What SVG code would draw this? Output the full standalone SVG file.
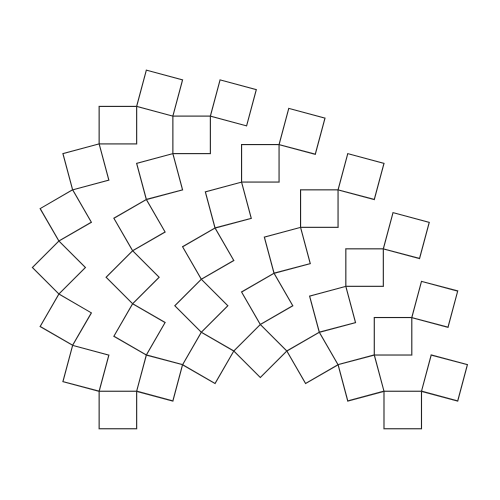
<svg xmlns="http://www.w3.org/2000/svg" xmlns:xlink="http://www.w3.org/1999/xlink" width="500" height="500" viewBox="0 0 500 500">
<style>
.sq{fill:none;stroke:#222;stroke-width:1.1}
</style>
<defs>
<rect id="sq" class="sq" x="-18.75" y="-18.75" width="37.5" height="37.5"/>
</defs>
<rect width="500" height="500" fill="#fff"/>
<g id="chain1">
<use id="L1s0" href="#sq" transform="translate(159.61,93.15) rotate(15)"/>
<use id="L1s1" href="#sq" transform="translate(117.90,125.16) rotate(0)"/>
<use id="L1s2" href="#sq" transform="translate(85.89,166.87) rotate(-15)"/>
<use id="L1s3" href="#sq" transform="translate(65.77,215.45) rotate(-30)"/>
<use id="L1s4" href="#sq" transform="translate(58.91,267.58) rotate(-45)"/>
<use id="L1s5" href="#sq" transform="translate(65.77,319.71) rotate(-60)"/>
<use id="L1s6" href="#sq" transform="translate(85.89,368.29) rotate(-75)"/>
<use id="L1s7" href="#sq" transform="translate(117.90,410.00) rotate(-90)"/>
</g>
<g id="chain2">
<use id="L2s0" href="#sq" transform="translate(233.34,102.86) rotate(15)"/>
<use id="L2s1" href="#sq" transform="translate(191.62,134.86) rotate(0)"/>
<use id="L2s2" href="#sq" transform="translate(159.61,176.58) rotate(-15)"/>
<use id="L2s3" href="#sq" transform="translate(139.49,225.16) rotate(-30)"/>
<use id="L2s4" href="#sq" transform="translate(132.63,277.29) rotate(-45)"/>
<use id="L2s5" href="#sq" transform="translate(139.49,329.42) rotate(-60)"/>
<use id="L2s6" href="#sq" transform="translate(159.61,377.99) rotate(-75)"/>
</g>
<g id="chain3">
<use id="L3s0" href="#sq" transform="translate(302.03,131.31) rotate(15)"/>
<use id="L3s1" href="#sq" transform="translate(260.32,163.32) rotate(0)"/>
<use id="L3s2" href="#sq" transform="translate(228.31,205.03) rotate(-15)"/>
<use id="L3s3" href="#sq" transform="translate(208.19,253.61) rotate(-30)"/>
<use id="L3s4" href="#sq" transform="translate(201.33,305.74) rotate(-45)"/>
<use id="L3s5" href="#sq" transform="translate(208.19,357.87) rotate(-60)"/>
</g>
<g id="chain4">
<use id="L4s0" href="#sq" transform="translate(361.03,176.58) rotate(15)"/>
<use id="L4s1" href="#sq" transform="translate(319.31,208.59) rotate(0)"/>
<use id="L4s2" href="#sq" transform="translate(287.31,250.30) rotate(-15)"/>
<use id="L4s3" href="#sq" transform="translate(267.18,298.88) rotate(-30)"/>
<use id="L4s4" href="#sq" transform="translate(260.32,351.01) rotate(-45)"/>
</g>
<g id="chain5">
<use id="L5s0" href="#sq" transform="translate(406.29,235.57) rotate(15)"/>
<use id="L5s1" href="#sq" transform="translate(364.58,267.58) rotate(0)"/>
<use id="L5s2" href="#sq" transform="translate(332.57,309.29) rotate(-15)"/>
<use id="L5s3" href="#sq" transform="translate(312.45,357.87) rotate(-30)"/>
</g>
<g id="chain6">
<use id="L6s0" href="#sq" transform="translate(434.75,304.27) rotate(15)"/>
<use id="L6s1" href="#sq" transform="translate(393.04,336.28) rotate(0)"/>
<use id="L6s2" href="#sq" transform="translate(361.03,377.99) rotate(-15)"/>
</g>
<g id="chain7">
<use id="L7s0" href="#sq" transform="translate(444.46,377.99) rotate(15)"/>
<use id="L7s1" href="#sq" transform="translate(402.74,410.00) rotate(0)"/>
</g>
<g id="connectors"/>
</svg>
